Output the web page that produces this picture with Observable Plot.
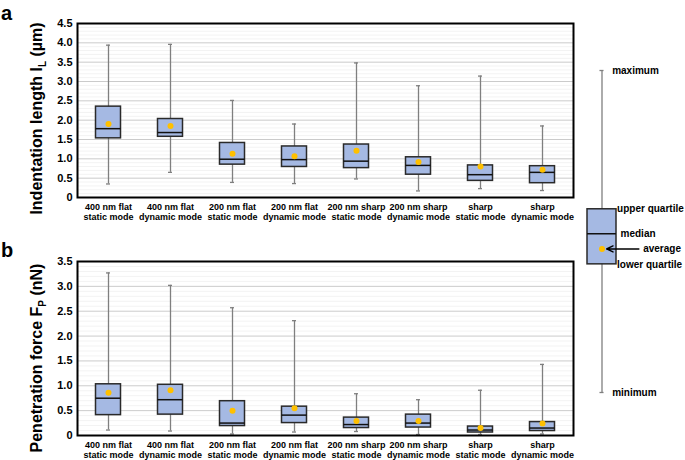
<!DOCTYPE html>
<html><head><meta charset="utf-8">
<script src="https://cdn.jsdelivr.net/npm/d3@7"></script>
<script src="https://cdn.jsdelivr.net/npm/@observablehq/plot@0.6"></script>
<style>
body{margin:0;background:#fff;}
#wrap{position:relative;width:685px;height:460px;font-family:"Liberation Sans",Arial,sans-serif;}
#wrap svg{position:absolute;overflow:visible;}
#wrap text{font-weight:bold;}
</style></head><body><div id="wrap"></div>
<script>
// ---------- data ----------
const categories = [
  "400 nm flat\nstatic mode", "400 nm flat\ndynamic mode",
  "200 nm flat\nstatic mode", "200 nm flat\ndynamic mode",
  "200 nm sharp\nstatic mode", "200 nm sharp\ndynamic mode",
  "sharp\nstatic mode", "sharp\ndynamic mode"
];
// (a) Indentation length (µm)
const lenMin    = [0.35, 0.65, 0.39, 0.36, 0.48, 0.17, 0.23, 0.18];
const lenQ1     = [1.53, 1.57, 0.85, 0.79, 0.76, 0.59, 0.43, 0.37];
const lenMedian = [1.78, 1.68, 0.99, 0.98, 0.94, 0.83, 0.59, 0.65];
const lenQ3     = [2.35, 2.03, 1.41, 1.32, 1.37, 1.04, 0.83, 0.81];
const lenMax    = [3.94, 3.96, 2.51, 1.90, 3.48, 2.89, 3.14, 1.85];
const lenMean   = [1.90, 1.85, 1.13, 1.07, 1.21, 0.92, 0.80, 0.72];
const lenTicks  = [0, 0.5, 1.0, 1.5, 2.0, 2.5, 3.0, 3.5, 4.0, 4.5];
// (b) Penetration force (nN)
const forceMin    = [0.11, 0.09, 0.03, 0.07, 0.08, 0.02, 0.02, 0.03];
const forceQ1     = [0.41, 0.42, 0.19, 0.25, 0.15, 0.16, 0.06, 0.09];
const forceMedian = [0.75, 0.72, 0.25, 0.41, 0.22, 0.25, 0.11, 0.15];
const forceQ3     = [1.03, 1.02, 0.69, 0.58, 0.36, 0.42, 0.18, 0.27];
const forceMax    = [3.27, 3.02, 2.57, 2.31, 0.84, 0.72, 0.91, 1.43];
const forceMean   = [0.86, 0.91, 0.50, 0.55, 0.29, 0.29, 0.15, 0.24];
const forceTicks  = [0, 0.5, 1.0, 1.5, 2.0, 2.5, 3.0, 3.5];
// legend (schematic)
const legendLabels = ["maximum", "upper quartile", "median", "average", "lower quartile", "minimum"];
const legendValues = [1, 0.569, 0.493, 0.446, 0.398, 0];

// ---------- styles ----------
const FONT = "Liberation Sans, Arial, sans-serif";
const BOX_FILL = "#a5b9e3", BOX_STROKE = "#2a2a2a", WHISK = "#7f7f7f", MEAN = "#ffc000";

function rows(mn, q1, md, q3, mx, mean) {
  return categories.map((c, i) => ({cat: c, min: mn[i], q1: q1[i], median: md[i], q3: q3[i], max: mx[i], mean: mean[i]}));
}

function panel(data, ticks, opts) {
  const ymax = ticks[ticks.length - 1];
  const minor = d3.range(0, Math.round(ymax * 10) + 1).map(i => i / 10);
  const boxInset = 18.5, capInset = 29;
  return Plot.plot({
    width: 576, height: opts.height,
    marginLeft: 77, marginRight: 3, marginTop: opts.marginTop, marginBottom: opts.marginBottom,
    style: {fontFamily: FONT, background: "transparent", color: "#000"},
    x: {domain: categories, padding: 0},
    y: {domain: [0, ymax]},
    marks: [
      Plot.gridY({ticks: minor, stroke: "#000", strokeOpacity: 0.05}),
      Plot.gridY({ticks: ticks, stroke: "#000", strokeOpacity: 0.16}),
      Plot.ruleX(data, {x: "cat", y1: "min", y2: "max", stroke: WHISK, strokeWidth: 1.3}),
      Plot.tickY(data, {x: "cat", y: "max", stroke: WHISK, strokeWidth: 1.3, insetLeft: capInset, insetRight: capInset}),
      Plot.tickY(data, {x: "cat", y: "min", stroke: WHISK, strokeWidth: 1.3, insetLeft: capInset, insetRight: capInset}),
      Plot.barY(data, {x: "cat", y1: "q1", y2: "q3", fill: BOX_FILL, stroke: BOX_STROKE, strokeWidth: 1.5, insetLeft: boxInset, insetRight: boxInset}),
      Plot.tickY(data, {x: "cat", y: "median", stroke: "#111", strokeWidth: 1.5, insetLeft: boxInset, insetRight: boxInset}),
      Plot.dot(data, {x: "cat", y: "mean", r: 3, fill: MEAN, stroke: null}),
      Plot.frame({stroke: "#000", strokeWidth: 2}),
      Plot.axisY({ticks: ticks, tickSize: 0, tickPadding: 5, label: null, fontSize: 11, fontWeight: "bold",
        tickFormat: d => d === 0 ? "0" : d.toFixed(1)}),
      Plot.axisX({tickSize: 0, tickPadding: 5, label: null, fontSize: 9, fontWeight: "bold", lineHeight: 1.15})
    ]
  });
}

function addLabels(svgNode, letter, main, sub, unit, cy) {
  const svg = d3.select(svgNode);
  svg.append("text").attr("x", 1).attr("y", 20).attr("text-anchor", "start")
    .attr("font-size", 20).attr("font-weight", "bold").attr("font-family", FONT).attr("fill", "#000").text(letter);
  const t = svg.append("text")
    .attr("transform", `translate(41.5,${cy}) rotate(-90)`)
    .attr("text-anchor", "middle").attr("font-size", 16).attr("font-weight", "bold")
    .attr("font-family", FONT).attr("fill", "#000");
  t.append("tspan").text(main);
  t.append("tspan").attr("font-size", 10).attr("dy", 4).text(sub);
  t.append("tspan").attr("dy", -4).text(unit);
}

const wrap = document.getElementById("wrap");

const a = panel(rows(lenMin, lenQ1, lenMedian, lenQ3, lenMax, lenMean), lenTicks, {height: 230, marginTop: 23, marginBottom: 33});
a.style.left = "0px"; a.style.top = "0px";
addLabels(a, "a", "Indentation length I", "L", " (µm)", 118.5);
wrap.appendChild(a);

const b = panel(rows(forceMin, forceQ1, forceMedian, forceQ3, forceMax, forceMean), forceTicks, {height: 223, marginTop: 24, marginBottom: 25});
b.style.left = "0px"; b.style.top = "237px";
addLabels(b, "b", "Penetration force F", "P", " (nN)", 121);
wrap.appendChild(b);

// ---------- legend ----------
const lv = Object.fromEntries(legendLabels.map((l, i) => [l, legendValues[i]]));
const labelX = {"maximum": 0.85, "upper quartile": 1.02, "median": 1.14, "average": 1.92, "lower quartile": 1.02, "minimum": 0.85};
const legendItems = legendLabels.map((l, i) => ({label: l, value: legendValues[i], x: labelX[l]}));
const leg = Plot.plot({
  width: 109, height: 460,
  marginLeft: 11, marginRight: 69, marginTop: 70, marginBottom: 68,
  style: {fontFamily: FONT, background: "transparent", color: "#000"},
  x: {domain: [0, 1], axis: null},
  y: {domain: [0, 1], axis: null},
  marks: [
    Plot.ruleX([0.5], {y1: lv["minimum"], y2: lv["maximum"], stroke: WHISK, strokeWidth: 1.3}),
    Plot.ruleY([lv["maximum"], lv["minimum"]], {x1: 0.43, x2: 0.57, stroke: WHISK, strokeWidth: 1.3}),
    Plot.rect([0], {x1: 0, x2: 1, y1: lv["lower quartile"], y2: lv["upper quartile"], fill: BOX_FILL, stroke: BOX_STROKE, strokeWidth: 1.5}),
    Plot.ruleY([lv["median"]], {x1: 0, x2: 1, stroke: "#111", strokeWidth: 1.5}),
    Plot.dot([0], {x: 0.5, y: lv["average"], r: 3, fill: MEAN, stroke: null}),
    Plot.arrow([0], {x1: 1.77, x2: 0.66, y1: lv["average"], y2: lv["average"], stroke: "#000", strokeWidth: 1.5, headLength: 7, headAngle: 50}),
    Plot.text(legendItems, {x: "x", y: "value", text: "label", textAnchor: "start", fontSize: 10, fontWeight: "bold", fill: "#000"})
  ]
});
leg.style.left = "576px"; leg.style.top = "0px";
wrap.appendChild(leg);
</script></body></html>
